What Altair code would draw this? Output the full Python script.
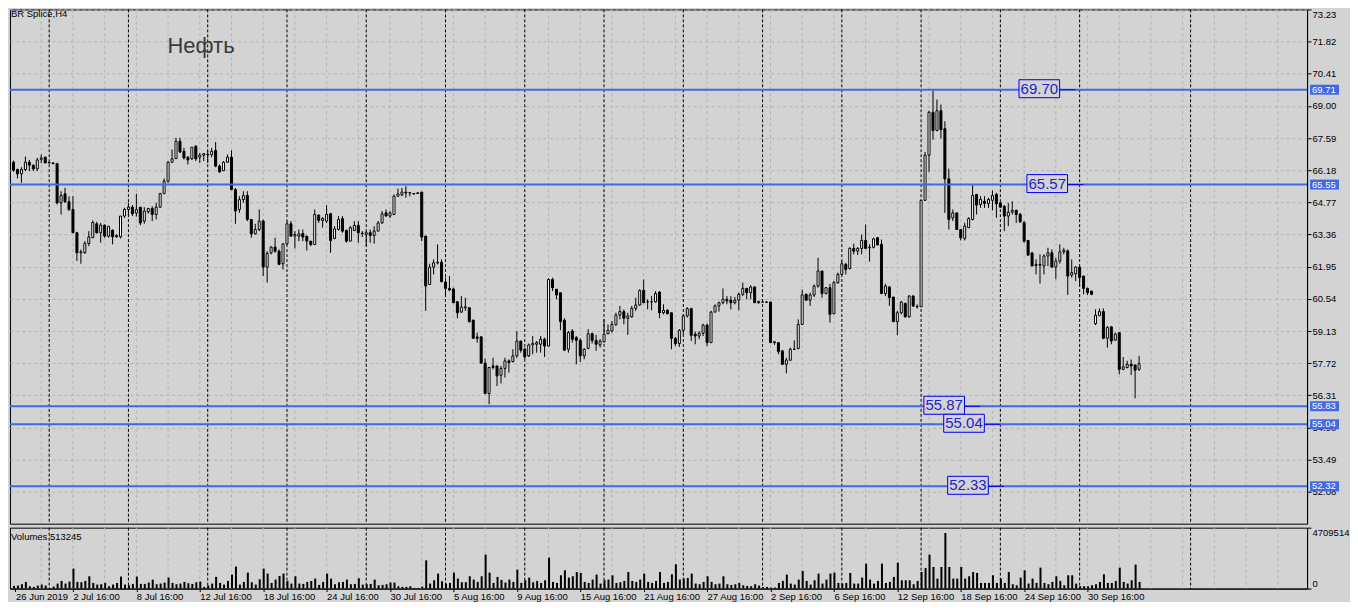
import json
import altair as alt
import pandas as pd

# ---------------- data ----------------
symbol_title = "BR Splice,H4"
chart_note = "Нефть"

opens = [
    66.53, 66.21, 66.02, 66.21, 66.53, 66.40, 66.24, 66.66, 66.75, 66.52,
    66.50, 66.47, 64.75, 65.15, 64.80, 64.46, 63.44, 62.56, 62.56, 62.97,
    63.22, 63.83, 63.44, 63.77, 63.29, 63.55, 63.26, 63.26, 64.17, 64.46,
    64.56, 64.30, 64.56, 63.95, 64.36, 64.50, 64.24, 64.56, 65.15, 65.70,
    66.53, 66.69, 67.45, 67.01, 66.75, 66.68, 67.23, 66.75, 66.84, 66.88,
    66.86, 67.05, 66.36, 66.16, 66.53, 66.75, 65.33, 64.46, 64.89, 65.07,
    64.02, 63.39, 63.58, 63.95, 61.93, 62.56, 62.81, 62.63, 62.08, 62.95,
    63.83, 63.29, 63.29, 63.40, 63.29, 63.07, 62.92, 64.21, 63.98, 63.95,
    64.27, 63.19, 63.58, 64.06, 63.54, 63.07, 63.54, 63.76, 63.42, 63.36,
    63.44, 63.32, 63.51, 63.87, 64.31, 64.17, 64.24, 65.04, 65.11, 65.22,
    65.20, 65.16, 65.16, 65.22, 63.29, 61.17, 61.93, 62.12, 62.15, 61.28,
    61.00, 60.97, 60.41, 59.96, 60.15, 60.15, 59.60, 58.87, 58.87, 57.72,
    56.39, 57.60, 57.60, 57.19, 57.49, 57.82, 57.79, 58.04, 58.69, 58.33,
    58.04, 58.52, 58.55, 58.55, 58.77, 58.47, 61.39, 60.96, 60.81, 59.60,
    58.33, 59.13, 58.84, 58.72, 58.04, 58.37, 59.01, 58.72, 58.52, 58.66,
    59.01, 59.13, 59.42, 59.83, 59.98, 59.69, 59.75, 60.12, 60.27, 60.91,
    60.41, 60.41, 60.41, 60.84, 59.93, 60.04, 59.93, 58.81, 58.58, 59.16,
    59.79, 60.11, 58.99, 58.91, 59.03, 59.39, 58.62, 59.96, 60.23, 60.37,
    60.52, 60.48, 60.37, 60.48, 60.74, 61.00, 60.81, 61.06, 60.37, 60.40,
    60.40, 60.40, 58.62, 58.62, 58.26, 57.67, 57.85, 58.33, 58.36, 59.42,
    60.74, 60.48, 60.71, 61.10, 61.76, 60.77, 61.03, 59.89, 61.25, 61.61,
    62.05, 61.87, 62.75, 62.63, 62.75, 63.10, 62.78, 62.80, 63.22, 62.93,
    60.77, 61.06, 60.62, 59.54, 59.93, 60.34, 59.75, 60.66, 60.21, 60.19,
    64.86, 66.84, 68.72, 67.92, 68.79, 68.00, 65.80, 64.09, 64.31, 63.58,
    63.19, 63.66, 64.02, 65.12, 64.68, 64.82, 64.72, 64.86, 65.12, 64.75,
    64.60, 64.17, 64.34, 64.42, 64.24, 63.88, 63.10, 62.55, 62.00, 62.05,
    61.98, 62.42, 62.56, 61.93, 62.20, 62.60, 62.64, 61.58, 61.64, 61.93,
    61.54, 61.00, 60.88, 59.45, 59.80, 59.98, 58.81, 59.31, 58.73, 59.06,
    57.45, 57.53, 57.67, 57.64, 57.45,
]
highs = [
    66.60, 66.25, 66.31, 66.78, 66.63, 66.43, 66.72, 66.87, 66.78, 66.55,
    66.52, 66.50, 65.26, 65.41, 65.04, 65.04, 63.48, 62.70, 63.07, 63.51,
    63.98, 63.92, 63.87, 63.80, 63.72, 63.58, 63.37, 64.17, 64.53, 64.75,
    64.65, 65.15, 64.56, 64.56, 64.53, 64.60, 64.75, 65.19, 65.82, 66.58,
    67.09, 67.60, 67.60, 67.16, 66.80, 67.19, 67.28, 66.94, 66.94, 67.04,
    67.16, 67.42, 66.43, 66.58, 66.87, 67.05, 65.40, 65.04, 65.26, 65.26,
    64.02, 63.83, 64.46, 64.02, 62.63, 62.85, 63.22, 62.71, 62.98, 63.95,
    63.95, 63.51, 63.58, 63.58, 63.29, 63.07, 64.46, 64.24, 64.12, 64.65,
    64.31, 63.73, 64.17, 64.17, 63.58, 63.73, 63.95, 63.95, 63.51, 63.51,
    63.58, 63.73, 63.95, 64.39, 64.46, 64.39, 65.12, 65.37, 65.40, 65.48,
    65.22, 65.18, 65.20, 65.22, 63.29, 62.08, 62.27, 62.93, 62.27, 61.47,
    61.54, 61.03, 60.45, 60.66, 60.59, 60.15, 59.64, 59.06, 58.91, 57.92,
    57.53, 57.96, 57.60, 57.60, 57.96, 57.89, 58.33, 59.13, 58.69, 58.40,
    58.58, 58.91, 58.69, 58.91, 58.84, 61.44, 61.47, 60.96, 60.81, 59.69,
    59.13, 59.21, 58.91, 58.81, 58.37, 59.21, 59.06, 58.96, 58.77, 59.64,
    59.42, 59.57, 59.93, 60.23, 60.08, 59.93, 60.23, 60.59, 60.96, 61.39,
    60.52, 60.66, 60.88, 60.88, 60.30, 60.08, 59.93, 58.87, 59.21, 59.86,
    60.18, 60.15, 59.10, 59.13, 59.45, 59.45, 60.01, 60.30, 60.42, 61.00,
    60.66, 60.66, 60.62, 60.81, 61.25, 61.00, 61.14, 61.10, 60.45, 60.43,
    60.43, 60.40, 58.69, 58.62, 58.29, 57.96, 58.40, 58.72, 59.64, 60.95,
    60.77, 60.81, 61.17, 62.34, 61.76, 61.06, 61.20, 61.32, 61.69, 62.20,
    62.12, 62.81, 62.96, 62.81, 63.36, 63.80, 62.93, 63.22, 63.25, 63.14,
    61.20, 61.10, 60.62, 60.01, 60.45, 60.37, 60.71, 60.71, 60.30, 64.86,
    66.98, 68.79, 69.67, 69.28, 69.06, 68.33, 66.25, 64.46, 64.31, 63.58,
    63.88, 64.12, 65.52, 65.12, 65.04, 65.04, 64.97, 65.29, 65.19, 64.75,
    64.65, 64.75, 64.82, 64.46, 64.31, 63.95, 63.10, 62.60, 62.27, 62.49,
    62.49, 62.78, 62.71, 62.34, 62.93, 62.78, 62.71, 62.27, 61.98, 61.98,
    61.54, 61.03, 60.88, 60.08, 60.12, 60.12, 59.35, 59.35, 59.06, 59.06,
    57.99, 57.82, 57.88, 57.67, 58.04,
]
lows = [
    66.11, 65.82, 65.63, 66.14, 66.14, 66.14, 66.14, 66.49, 66.49, 66.48,
    66.44, 64.68, 64.24, 64.75, 64.39, 63.44, 62.20, 62.08, 62.52, 62.85,
    63.22, 63.40, 63.00, 63.22, 63.22, 62.93, 63.22, 63.19, 64.09, 64.17,
    64.17, 64.15, 63.77, 63.83, 64.27, 63.95, 64.02, 64.53, 65.15, 65.63,
    66.50, 66.69, 66.94, 66.65, 66.43, 66.63, 66.58, 66.50, 66.58, 66.50,
    66.75, 66.31, 66.06, 66.14, 66.50, 65.33, 63.83, 64.31, 64.75, 63.95,
    63.22, 63.36, 63.51, 61.54, 61.25, 62.49, 62.56, 62.02, 61.83, 62.92,
    63.29, 62.75, 63.07, 63.07, 62.66, 62.85, 62.92, 63.87, 63.66, 63.87,
    62.56, 63.15, 63.54, 63.44, 63.00, 63.07, 63.51, 63.00, 63.25, 62.85,
    63.00, 62.96, 63.51, 63.83, 64.17, 64.09, 64.21, 65.04, 65.04, 64.97,
    65.04, 65.11, 65.14, 63.07, 60.01, 61.17, 61.61, 62.05, 61.29, 60.74,
    60.88, 60.37, 59.69, 59.93, 60.01, 59.50, 58.81, 58.62, 57.72, 56.36,
    55.92, 57.45, 56.72, 56.83, 57.09, 57.31, 57.75, 57.96, 58.18, 57.89,
    57.99, 58.11, 58.18, 58.18, 57.99, 58.47, 60.88, 60.52, 59.16, 58.26,
    58.18, 58.62, 57.67, 57.77, 57.89, 58.33, 58.58, 58.26, 58.40, 58.62,
    58.99, 59.06, 59.35, 59.64, 59.42, 58.96, 59.72, 60.01, 60.23, 60.37,
    60.08, 60.04, 60.37, 59.69, 59.86, 59.86, 58.33, 58.47, 58.43, 58.99,
    59.72, 58.69, 58.55, 58.77, 58.91, 58.47, 58.62, 59.96, 59.98, 60.30,
    60.30, 60.08, 60.30, 60.04, 60.66, 60.52, 60.52, 60.37, 60.33, 60.37,
    60.37, 58.62, 58.52, 58.11, 57.64, 57.28, 57.82, 58.29, 58.33, 59.39,
    60.48, 60.23, 60.62, 61.03, 60.59, 60.74, 59.50, 59.86, 61.20, 61.58,
    61.61, 61.83, 62.49, 62.46, 62.49, 62.75, 62.17, 62.75, 62.90, 60.77,
    60.66, 60.23, 59.54, 58.95, 59.86, 59.72, 59.72, 60.18, 60.12, 60.19,
    64.86, 66.11, 67.52, 67.89, 67.57, 64.31, 63.58, 63.95, 63.58, 63.10,
    63.10, 63.66, 63.98, 64.24, 64.53, 64.53, 64.53, 64.42, 64.09, 64.53,
    63.51, 63.73, 64.24, 63.87, 63.87, 63.00, 62.42, 61.98, 61.61, 61.21,
    61.61, 61.98, 61.93, 61.40, 62.08, 62.49, 60.71, 61.47, 61.32, 61.10,
    60.74, 60.71, 60.70, 59.39, 59.79, 58.77, 58.40, 58.55, 58.69, 57.23,
    57.41, 57.49, 57.20, 56.18, 57.38,
]
closes = [
    66.18, 66.02, 66.21, 66.53, 66.40, 66.24, 66.63, 66.72, 66.50, 66.50,
    66.47, 64.75, 65.07, 64.80, 64.46, 63.44, 62.56, 62.60, 62.97, 63.25,
    63.89, 63.44, 63.77, 63.29, 63.72, 63.26, 63.32, 64.17, 64.46, 64.56,
    64.27, 64.45, 63.87, 64.39, 64.50, 64.24, 64.56, 65.15, 65.70, 66.53,
    66.68, 67.45, 66.98, 66.72, 66.63, 67.19, 66.68, 66.84, 66.90, 66.86,
    67.01, 66.36, 66.11, 66.53, 66.75, 65.33, 64.39, 64.89, 65.07, 64.02,
    63.39, 63.58, 63.95, 61.93, 62.53, 62.81, 62.63, 62.05, 62.95, 63.83,
    63.29, 63.36, 63.39, 63.25, 63.07, 62.92, 64.24, 63.98, 64.06, 64.24,
    63.10, 63.61, 64.02, 63.51, 63.07, 63.66, 63.76, 63.44, 63.40, 63.44,
    63.32, 63.51, 63.87, 64.27, 64.17, 64.31, 65.04, 65.14, 65.22, 65.18,
    65.18, 65.14, 65.19, 63.25, 61.10, 61.93, 62.12, 62.14, 61.29, 61.00,
    60.93, 60.37, 59.93, 60.18, 60.19, 59.54, 58.81, 58.81, 57.72, 56.39,
    57.53, 57.53, 57.16, 57.49, 57.82, 57.75, 58.04, 58.69, 58.29, 57.99,
    58.52, 58.58, 58.62, 58.77, 58.47, 61.39, 61.03, 60.71, 59.54, 58.29,
    59.06, 58.77, 58.72, 58.04, 58.33, 59.01, 58.72, 58.55, 58.69, 58.99,
    59.16, 59.42, 59.83, 59.98, 59.69, 59.79, 60.12, 60.27, 60.91, 60.37,
    60.41, 60.41, 60.77, 59.93, 60.04, 59.89, 58.81, 58.58, 59.16, 59.79,
    60.11, 58.94, 58.91, 59.03, 59.39, 58.62, 59.96, 60.23, 60.37, 60.52,
    60.45, 60.37, 60.48, 60.74, 61.00, 60.81, 61.06, 60.37, 60.43, 60.40,
    60.39, 58.62, 58.66, 58.23, 57.67, 57.86, 58.33, 58.33, 59.42, 60.71,
    60.48, 60.71, 61.10, 61.76, 60.77, 61.03, 59.86, 61.25, 61.61, 62.08,
    61.83, 62.75, 62.63, 62.75, 63.10, 62.75, 62.80, 63.17, 62.90, 60.77,
    61.10, 60.59, 59.54, 59.93, 60.40, 59.75, 60.66, 60.23, 60.19, 64.86,
    66.84, 68.72, 67.92, 68.79, 67.96, 65.80, 64.02, 64.31, 63.58, 63.22,
    63.73, 64.06, 65.07, 64.65, 64.90, 64.72, 64.90, 65.07, 64.71, 64.56,
    64.17, 64.34, 64.42, 64.24, 63.92, 63.07, 62.46, 61.98, 62.05, 62.02,
    62.42, 62.56, 61.93, 62.20, 62.60, 62.67, 61.54, 61.69, 61.93, 61.47,
    61.00, 60.81, 60.74, 59.82, 59.98, 58.81, 59.28, 58.69, 58.99, 57.45,
    57.56, 57.67, 57.60, 57.41, 57.70,
]
volume_thousands = [
    206, 232, 335, 515, 180, 129, 232, 309, 232, 51,
    154, 386, 592, 386, 540, 1544, 515, 489, 592, 952,
    437, 309, 335, 437, 180, 309, 437, 926, 309, 257,
    360, 926, 360, 360, 463, 695, 335, 386, 463, 849,
    437, 335, 386, 515, 412, 360, 489, 540, 129, 232,
    386, 901, 437, 309, 592, 1081, 1699, 309, 515, 1235,
    489, 309, 721, 1544, 1158, 437, 695, 978, 1158, 592,
    386, 952, 386, 360, 515, 592, 772, 283, 515, 1158,
    772, 335, 489, 515, 695, 335, 360, 798, 309, 335,
    360, 695, 257, 283, 335, 463, 463, 180, 129, 129,
    180, 51, 51, 154, 2187, 386, 643, 1158, 566, 386,
    437, 1235, 772, 489, 489, 952, 695, 515, 952, 2625,
    1235, 437, 901, 669, 463, 695, 515, 1467, 437, 643,
    849, 489, 592, 437, 643, 2393, 515, 437, 1029, 1415,
    849, 952, 1287, 1210, 515, 437, 695, 1081, 386, 643,
    695, 1029, 437, 489, 592, 1287, 592, 515, 695, 1158,
    515, 437, 592, 1287, 437, 515, 1107, 1879, 695, 772,
    824, 1158, 386, 335, 515, 952, 515, 335, 386, 952,
    335, 283, 335, 437, 257, 206, 180, 335, 232, 129,
    129, 77, 77, 437, 592, 1081, 386, 309, 695, 1364,
    592, 309, 643, 1158, 386, 695, 1158, 1235, 437, 386,
    437, 1210, 386, 386, 849, 1930, 695, 386, 592, 1930,
    437, 515, 901, 2007, 643, 643, 643, 335, 592, 1287,
    1596, 2625, 1673, 772, 1673, 4298, 1673, 772, 772, 1673,
    772, 952, 1287, 1210, 437, 437, 437, 1029, 437, 772,
    437, 1287, 335, 257, 849, 1415, 386, 772, 437, 1621,
    437, 335, 515, 952, 592, 257, 1029, 1029, 386, 180,
    180, 180, 257, 335, 515, 1107, 437, 437, 592, 1621,
    515, 386, 643, 1853, 513.245,
]

price_ticks = [73.23, 71.82, 70.41, 69.00, 67.59, 66.18, 64.77, 63.36,
               61.95, 60.54, 59.13, 57.72, 56.31, 54.90, 53.49, 52.08]
volume_ticks = [0, 4709514]

level_prices = [69.71, 65.55, 55.83, 55.04, 52.32]
note_texts = ["69.70", "65.57", "55.87", "55.04", "52.33"]
note_bars = [253.7, 255.7, 229.7, 234.7, 235.7]

date_labels = ["26 Jun 2019", "2 Jul 16:00", "8 Jul 16:00", "12 Jul 16:00",
               "18 Jul 16:00", "24 Jul 16:00", "30 Jul 16:00", "5 Aug 16:00",
               "9 Aug 16:00", "15 Aug 16:00", "21 Aug 16:00", "27 Aug 16:00",
               "2 Sep 16:00", "6 Sep 16:00", "12 Sep 16:00", "18 Sep 16:00",
               "24 Sep 16:00", "30 Sep 16:00"]
date_bars = [0.5, 15, 31, 47, 63, 79, 95, 111, 127, 143, 159, 175, 191, 207,
             223, 239, 255, 271]
separator_bars = [9, 29, 49, 69, 89, 109, 129, 149, 169, 189, 209, 229, 249,
                  269, 297]

# ---------------- styling ----------------
FONT = "Liberation Sans"
BG = "#d3d3d3"
GRID = "#b4b4b4"
BLUE = "#4169e1"
NOTE_BLUE = "#0000ee"
NOTE_TEXT = "#2222cc"
W = 1299
H_MAIN = 515
H_VOL = 61

candles = pd.DataFrame({"bar": list(range(len(opens))), "o": opens, "h": highs,
                        "l": lows, "c": closes})
candles["dir"] = ["down" if c < o else "up" for o, c in zip(opens, closes)]
candles["v"] = [round(v * 1000) for v in volume_thousands]

grid_df = pd.DataFrame({"g": list(range(7, 326, 8))})
sep_df = pd.DataFrame({"s": separator_bars})
levels_df = pd.DataFrame({"price": level_prices,
                          "tag": [f"{p:.2f}" for p in level_prices]})
notes_df = pd.DataFrame({"left": note_bars, "price": level_prices, "label": note_texts})

xs = alt.Scale(domain=[0.375, 325.125], nice=False, zero=False)
ys = alt.Scale(domain=[50.682, 73.23], nice=False, zero=False)
vs = alt.Scale(domain=[0, 4709514], nice=False, zero=True)

y_axis = alt.Axis(orient="right", values=price_ticks, format=".2f", title=None,
                  tickSize=4, tickColor="black", domainColor="black",
                  labelColor="black", labelFont=FONT, labelFontSize=9.5,
                  labelPadding=1, labelOverlap=False, labelBound=False,
                  labelFlush=True, grid=True, gridColor=GRID, gridDash=[3, 3],
                  gridWidth=1)

lab_expr = f"{json.dumps(date_labels)}[indexof({json.dumps(date_bars)}, datum.value)]"
x_axis_v = alt.Axis(orient="bottom", values=date_bars, labelExpr=lab_expr,
                    tickSize=3, tickColor="black", domainColor="black",
                    labelPadding=0, labelAlign="left", labelBaseline="top",
                    labelFont=FONT, labelFontSize=9.5, labelColor="black",
                    labelOverlap=False, labelFlush=False, labelBound=False,
                    grid=False, title=None)
v_axis = alt.Axis(orient="right", values=volume_ticks, format="d", title=None,
                  tickSize=4, tickColor="black", domainColor="black",
                  labelColor="black", labelFont=FONT, labelFontSize=9.5,
                  labelPadding=1, labelFlush=True, labelOverlap=False, grid=False)


def xenc(field, axis=None):
    return alt.X(field, type="quantitative", scale=xs, axis=axis, title=None)


def yenc(field):
    return alt.Y(field, type="quantitative", scale=ys, axis=y_axis, title=None)


# ---------------- main price panel ----------------
vgrid = alt.Chart(grid_df).mark_rule(color=GRID, strokeDash=[3, 3], strokeWidth=1).encode(
    x=xenc("g"))
seps = alt.Chart(sep_df).mark_rule(color="black", strokeDash=[3, 2], strokeWidth=1).encode(
    x=xenc("s"))
wicks = alt.Chart(candles).mark_rule(color="black", strokeWidth=1).encode(
    x=xenc("bar"), y=yenc("l"), y2="h:Q")
bodies = alt.Chart(candles).mark_bar(width=2, stroke="black", strokeWidth=1).encode(
    x=xenc("bar"), y=yenc("o"), y2="c:Q",
    color=alt.Color("dir:N", scale=alt.Scale(domain=["up", "down"], range=["white", "black"]),
                    legend=None))
levels = alt.Chart(levels_df).mark_rule(color=BLUE, strokeWidth=2).encode(y=yenc("price"))

boxes = alt.Chart(notes_df).transform_calculate(
    right="datum.left + 10.25", ylo="datum.price - 0.35", yhi="datum.price + 0.438"
).mark_rect(fill=BG, stroke=NOTE_BLUE, strokeWidth=1).encode(
    x=xenc("left"), x2="right:Q", y=yenc("ylo"), y2="yhi:Q")
note_text = alt.Chart(notes_df).transform_calculate(
    xc="datum.left + 5.125", yc="datum.price + 0.044"
).mark_text(font=FONT, fontSize=15, color=NOTE_TEXT, align="center", baseline="middle").encode(
    x=xenc("xc"), y=yenc("yc"), text="label:N")
connectors = alt.Chart(notes_df).transform_calculate(
    a="datum.left + 10.25", b="datum.left + 14.25"
).mark_rule(color=NOTE_BLUE, strokeWidth=1).encode(x=xenc("a"), x2="b:Q", y=yenc("price"))

tags = alt.Chart(levels_df).transform_calculate(
    ylo="datum.price - 0.219", yhi="datum.price + 0.219"
).mark_rect(fill=BLUE).encode(
    x=alt.value(W + 3), x2=alt.value(W + 32), y=yenc("ylo"), y2="yhi:Q")
tag_text = alt.Chart(levels_df).mark_text(
    font=FONT, fontSize=9.5, color="white", align="left", baseline="middle").encode(
    x=alt.value(W + 5), y=yenc("price"), text="tag:N")

sym = alt.Chart(pd.DataFrame({"t": [symbol_title]})).mark_text(
    font=FONT, fontSize=9.5, color="black", align="left", baseline="alphabetic").encode(
    x=alt.value(1), y=alt.value(7.8), text="t:N")
oil = alt.Chart(pd.DataFrame({"t": [chart_note]})).mark_text(
    font=FONT, fontSize=22, color="#3a3a3a", align="left", baseline="alphabetic").encode(
    x=alt.value(157.7), y=alt.value(43.7), text="t:N")

main = alt.layer(vgrid, seps, wicks, bodies, levels, boxes, note_text, connectors,
                 tags, tag_text, sym, oil).properties(width=W, height=H_MAIN)

# ---------------- volume panel ----------------
vgrid2 = alt.Chart(grid_df).mark_rule(color=GRID, strokeDash=[3, 3], strokeWidth=1).encode(
    x=xenc("g", x_axis_v))
seps2 = alt.Chart(sep_df).mark_rule(color="black", strokeDash=[3, 2], strokeWidth=1).encode(
    x=xenc("s", x_axis_v))
vbars = alt.Chart(candles).mark_bar(width=2, xOffset=0.5, color="black").encode(
    x=xenc("bar", x_axis_v), y=alt.Y("v:Q", scale=vs, axis=v_axis, title=None))
vtext = alt.Chart(pd.DataFrame({"t": [f"Volumes {candles['v'].iloc[-1]}"]})).mark_text(
    font=FONT, fontSize=9.5, color="black", align="left", baseline="alphabetic").encode(
    x=alt.value(1), y=alt.value(12.5), text="t:N")

vol = alt.layer(vgrid2, seps2, vbars, vtext).properties(width=W, height=H_VOL)

chart = alt.vconcat(main, vol, spacing=2).properties(
    padding=0,
    background=BG,
).configure_view(stroke="black", strokeWidth=1)

chart.save("out.html", embed_options={"renderer": "svg", "actions": False})
